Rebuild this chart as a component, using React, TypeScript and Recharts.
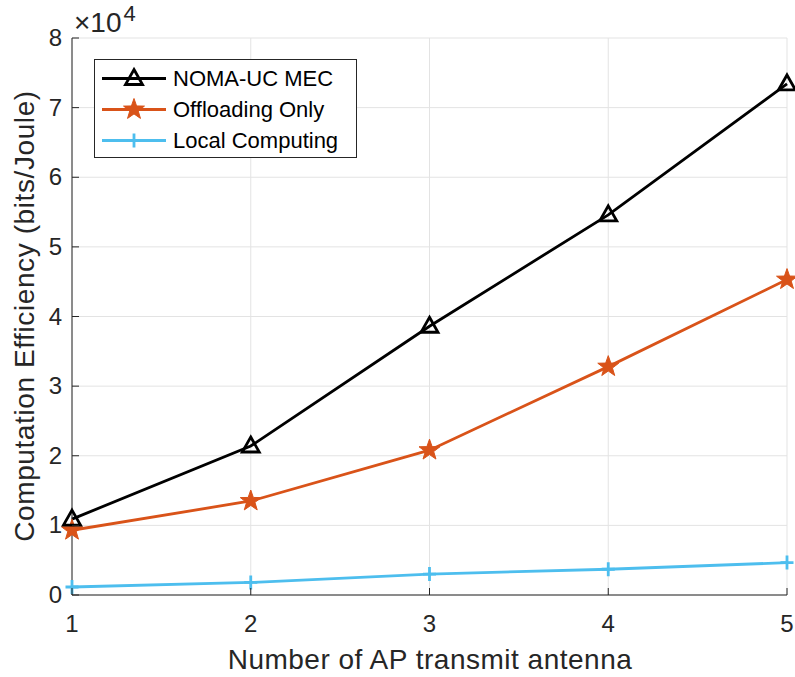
import React from "react";
import {
  LineChart,
  Line,
  XAxis,
  YAxis,
  CartesianGrid,
  Legend,
} from "recharts";

// values (bits/Joule)
const antennas = [1, 2, 3, 4, 5];
const nomaUcMec = [10900, 21400, 38600, 54600, 73400];
const offloadingOnly = [9300, 13500, 20800, 32800, 45300];
const localComputing = [1150, 1800, 3000, 3700, 4650];

const xTicks = [1, 2, 3, 4, 5];
const yTicks = [0, 10000, 20000, 30000, 40000, 50000, 60000, 70000, 80000];

const seriesNames = ["NOMA-UC MEC", "Offloading Only", "Local Computing"];
const colors = ["#000000", "#D95319", "#4DBEEE"];

const data = antennas.map((n, i) => ({
  n,
  noma: nomaUcMec[i],
  offload: offloadingOnly[i],
  local: localComputing[i],
}));

const FONT = "'Liberation Sans', Arial, Helvetica, sans-serif";
const AXIS = "#262626";
const LW = 2.8;

// markers
const triangle = (cx: number, cy: number, key?: string) => (
  <path
    key={key}
    d={`M${cx},${cy - 9} L${cx + 8.5},${cy + 6} L${cx - 8.5},${cy + 6} Z`}
    fill="none"
    stroke="#000"
    strokeWidth={LW}
  />
);

const star = (cx: number, cy: number, key?: string) => {
  const pts = [];
  for (let k = 0; k < 10; k++) {
    const r = k % 2 === 0 ? 11 : 4.4;
    const a = -Math.PI / 2 + (k * Math.PI) / 5;
    pts.push(`${cx + r * Math.cos(a)},${cy + r * Math.sin(a)}`);
  }
  return <polygon key={key} points={pts.join(" ")} fill="#D95319" stroke="#D95319" strokeWidth={1} />;
};

const plusMark = (cx: number, cy: number, key?: string) => (
  <path
    key={key}
    d={`M${cx - 6.5},${cy} H${cx + 6.5} M${cx},${cy - 7} V${cy + 7}`}
    stroke="#4DBEEE"
    strokeWidth={LW}
    fill="none"
  />
);

const markers = [triangle, star, plusMark];

const dotFor = (idx: number) => (props: any) => {
  const { cx, cy, index } = props;
  if (cx == null || cy == null) return <g key={`e${idx}-${index}`} />;
  return markers[idx](cx, cy, `m${idx}-${index}`);
};

// ticks pointing inward, MATLAB style
const LeftTick = ({ x, y, payload }: any) => (
  <g>
    <line x1={x + 10} x2={x + 17} y1={y} y2={y} stroke={AXIS} />
    <text x={x} y={y} dy={8} textAnchor="end" fill={AXIS} style={{ fontSize: 24, fontFamily: FONT }}>
      {payload.value / 10000}
    </text>
  </g>
);

const RightTick = ({ x, y }: any) => (
  <line x1={x - 7} x2={x} y1={y} y2={y} stroke={AXIS} />
);

const BottomTick = ({ x, y, payload }: any) => (
  <g>
    <line x1={x} x2={x} y1={y} y2={y - 7} stroke={AXIS} />
    <text x={x} y={y + 37} textAnchor="middle" fill={AXIS} style={{ fontSize: 24, fontFamily: FONT }}>
      {payload.value}
    </text>
  </g>
);

const TopTick = ({ x, y }: any) => (
  <line x1={x} x2={x} y1={y} y2={y + 7} stroke={AXIS} />
);

const YLabel = () => (
  <text
    transform="translate(34,316) rotate(-90)"
    textAnchor="middle"
    fill={AXIS}
    letterSpacing={0.6}
    style={{ fontSize: 28, fontFamily: FONT }}
  >
    Computation Efficiency (bits/Joule)
  </text>
);

const XLabel = () => (
  <text
    x={430}
    y={669}
    textAnchor="middle"
    fill={AXIS}
    letterSpacing={0.5}
    style={{ fontSize: 28, fontFamily: FONT }}
  >
    Number of AP transmit antenna
  </text>
);

const LegendBox = () => (
  <div
    style={{
      border: `1.2px solid ${AXIS}`,
      background: "#fff",
      width: 263,
      height: 99,
      boxSizing: "border-box",
      paddingTop: 3,
      fontFamily: FONT,
      fontSize: 22,
      color: "#000",
    }}
  >
    {seriesNames.map((name, i) => (
      <div key={name} style={{ display: "flex", alignItems: "center", height: 31 }}>
        <svg width={78} height={31} style={{ display: "block" }}>
          <line x1={7} x2={71} y1={15.5} y2={15.5} stroke={colors[i]} strokeWidth={LW} />
          {markers[i](39, 15.5)}
        </svg>
        <span>{name}</span>
      </div>
    ))}
  </div>
);

export default function App() {
  return (
    <div style={{ position: "absolute", left: 0, top: 0, width: 795, height: 677, background: "#fff" }}>
      <LineChart
        width={795}
        height={677}
        data={data}
        margin={{ top: 38, right: 8, bottom: 0, left: 0 }}
        style={{ fontFamily: FONT }}
      >
        <CartesianGrid stroke="#e3e3e3" strokeWidth={1} />
        <XAxis
          dataKey="n"
          type="number"
          domain={[1, 5]}
          ticks={xTicks}
          height={82}
          tickSize={0}
          tickMargin={0}
          tickLine={false}
          axisLine={{ stroke: AXIS }}
          tick={<BottomTick />}
          label={<XLabel />}
          interval={0}
        />
        <XAxis
          xAxisId="top"
          dataKey="n"
          type="number"
          orientation="top"
          domain={[1, 5]}
          ticks={xTicks}
          height={0}
          tickSize={0}
          tickMargin={0}
          tickLine={false}
          axisLine={{ stroke: AXIS }}
          tick={<TopTick />}
          interval={0}
        />
        <YAxis
          type="number"
          domain={[0, 80000]}
          ticks={yTicks}
          width={72}
          tickSize={0}
          tickMargin={10}
          tickLine={false}
          axisLine={{ stroke: AXIS }}
          tick={<LeftTick />}
          label={<YLabel />}
          interval={0}
        />
        <YAxis
          yAxisId="right"
          orientation="right"
          type="number"
          domain={[0, 80000]}
          ticks={yTicks}
          width={0}
          tickSize={0}
          tickMargin={0}
          tickLine={false}
          axisLine={{ stroke: AXIS }}
          tick={<RightTick />}
          interval={0}
        />
        <Legend
          layout="vertical"
          align="center"
          verticalAlign="middle"
          wrapperStyle={{ left: 94, top: 59, width: 265, height: 101 }}
          content={<LegendBox />}
        />
        <Line
          dataKey="local"
          name={seriesNames[2]}
          stroke={colors[2]}
          strokeWidth={LW}
          dot={dotFor(2)}
          activeDot={false}
          isAnimationActive={false}
        />
        <Line
          dataKey="offload"
          name={seriesNames[1]}
          stroke={colors[1]}
          strokeWidth={LW}
          dot={dotFor(1)}
          activeDot={false}
          isAnimationActive={false}
        />
        <Line
          dataKey="noma"
          name={seriesNames[0]}
          stroke={colors[0]}
          strokeWidth={LW}
          dot={dotFor(0)}
          activeDot={false}
          isAnimationActive={false}
        />
      </LineChart>
      {/* axis exponent, as MATLAB draws it above the y axis */}
      <div
        style={{
          position: "absolute",
          left: 74,
          top: 8.5,
          fontFamily: FONT,
          fontSize: 28,
          lineHeight: "28px",
          color: AXIS,
          whiteSpace: "nowrap",
        }}
      >
        ×10
        <span style={{ position: "relative", top: -11, fontSize: 22, marginLeft: 2 }}>4</span>
      </div>
    </div>
  );
}
